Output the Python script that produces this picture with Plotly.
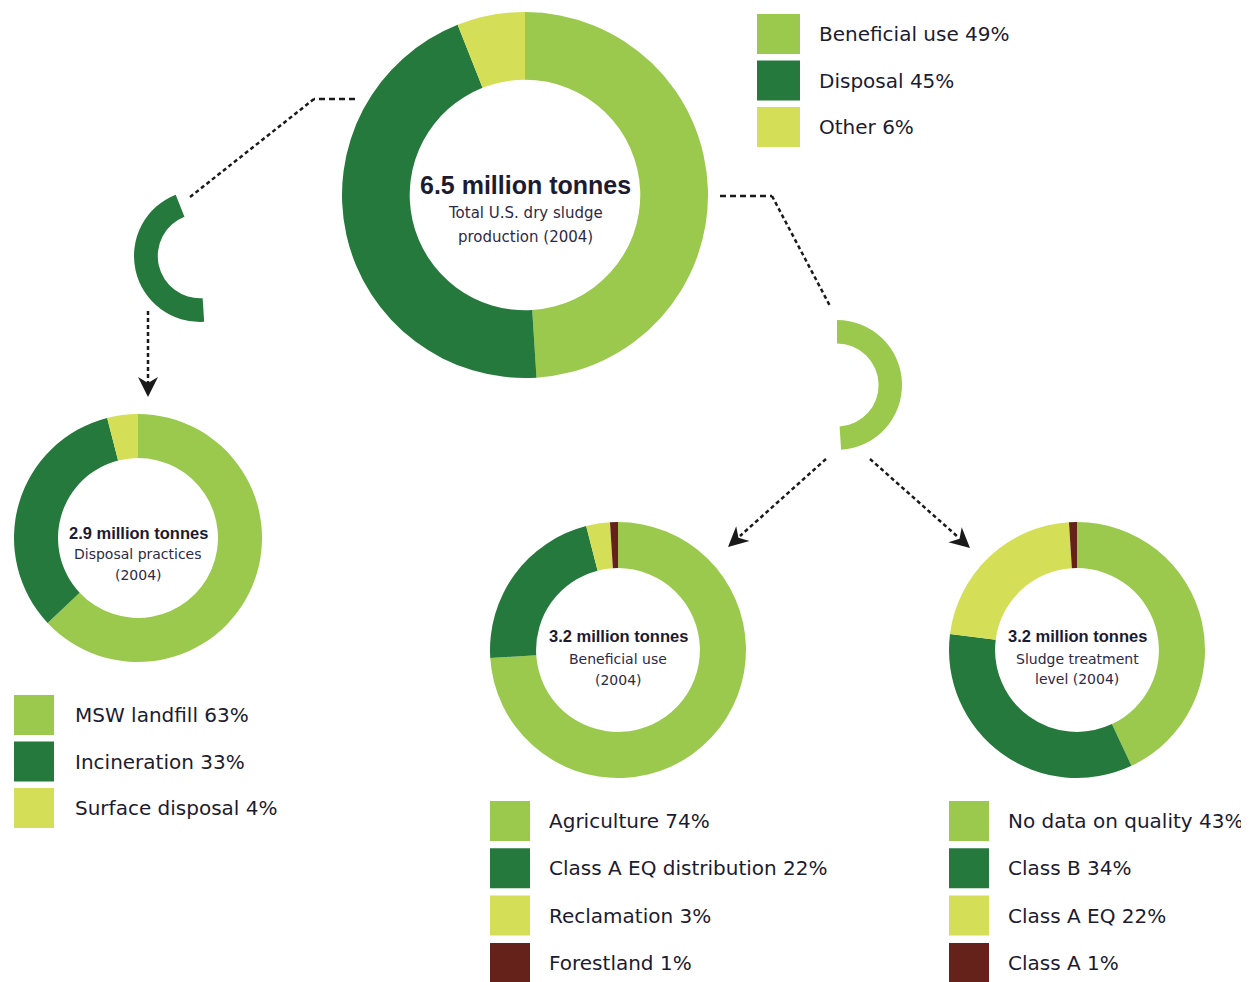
import math
import plotly.graph_objects as go

W, H = 1249, 982
OFF = 8                      # page body margin of the browser
FW, FH = W - OFF, H - OFF    # figure size that fits inside the window

# ---------------- data ----------------
main_labels = ["Beneficial use", "Disposal", "Other"]
main_values = [49, 45, 6]
main_title = ["6.5 million tonnes", "Total U.S. dry sludge", "production (2004)"]

disp_labels = ["MSW landfill", "Incineration", "Surface disposal"]
disp_values = [63, 33, 4]
disp_title = ["2.9 million tonnes", "Disposal practices", "(2004)"]

ben_labels = ["Agriculture", "Class A EQ distribution", "Reclamation", "Forestland"]
ben_values = [74, 22, 3, 1]
ben_title = ["3.2 million tonnes", "Beneficial use", "(2004)"]

trt_labels = ["No data on quality", "Class B", "Class A EQ", "Class A"]
trt_values = [43, 34, 22, 1]
trt_title = ["3.2 million tonnes", "Sludge treatment", "level (2004)"]

# ---------------- style ----------------
LG = "#9AC94E"
DG = "#25793C"
YL = "#D4DF57"
BR = "#65221A"
CLEAR = "rgba(0,0,0,0)"
TXT = "#1C1B30"
SUB = "#2E2A45"
FONT = "DejaVu Sans"
BFONT = "Liberation Sans"

fig = go.Figure()


def add_pie(values, labels, colors, cx, cy, r, hole):
    fig.add_trace(go.Pie(
        values=values, labels=labels, sort=False, direction="clockwise",
        rotation=0, hole=hole, textinfo="none", hoverinfo="label+percent",
        marker=dict(colors=colors, line=dict(width=0)),
        domain=dict(x=[(cx - r - OFF) / FW, (cx + r - OFF) / FW],
                    y=[1 - (cy + r - OFF) / FH, 1 - (cy - r - OFF) / FH]),
        showlegend=False,
    ))


# main donut and its two exploded fragments
add_pie(main_values, main_labels, [LG, DG, YL], 525, 195, 183, 0.63)
add_pie(main_values, main_labels, [CLEAR, DG, CLEAR], 200, 256, 66, 0.64)
add_pie(main_values, main_labels, [LG, CLEAR, CLEAR], 837, 385, 65, 0.64)

# detail donuts
add_pie(disp_values, disp_labels, [LG, DG, YL], 138, 538, 124, 0.645)
add_pie(ben_values, ben_labels, [LG, DG, YL, BR], 618, 650, 128, 0.64)
add_pie(trt_values, trt_labels, [LG, DG, YL, BR], 1077, 650, 128, 0.64)

shapes = []
annotations = []


def add_legend(labels, values, colors, x0, y0, sw, sh, pitch, tx):
    for i, (lab, val, col) in enumerate(zip(labels, values, colors)):
        top = y0 + i * pitch
        shapes.append(dict(type="rect", xref="x", yref="y", x0=x0, x1=x0 + sw,
                           y0=top, y1=top + sh, fillcolor=col, line=dict(width=0)))
        annotations.append(dict(x=tx, y=top + sh / 2, xref="x", yref="y",
                                text=f"{lab} {val}%", showarrow=False,
                                xanchor="left", yanchor="middle",
                                font=dict(family=FONT, size=20, color=TXT)))


add_legend(main_labels, main_values, [LG, DG, YL], 757, 14, 43, 40, 46.5, 817)
add_legend(disp_labels, disp_values, [LG, DG, YL], 14, 695, 40, 40, 46.5, 73)
add_legend(ben_labels, ben_values, [LG, DG, YL, BR], 490, 801, 40, 40, 47.3, 547)
add_legend(trt_labels, trt_values, [LG, DG, YL, BR], 949, 801, 40, 40, 47.3, 1006)


def add_title(lines, cx, ys, sizes):
    for k, (t, y, s) in enumerate(zip(lines, ys, sizes)):
        if k == 0:
            txt, fam, col = f"<b>{t}</b>", BFONT, TXT
        else:
            txt, fam, col = t, FONT, SUB
        annotations.append(dict(x=cx, y=y, xref="x", yref="y", text=txt,
                                showarrow=False, xanchor="center", yanchor="middle",
                                font=dict(family=fam, size=s, color=col)))


add_title(main_title, 525, [185, 213, 237], [25, 15, 15])
add_title(disp_title, 138, [533, 554, 575], [16.5, 14, 14])
add_title(ben_title, 618, [636, 659, 680], [16.5, 14, 14])
add_title(trt_title, 1077, [636, 659, 679], [16.5, 14, 14])


def dashed(points, dash="4px,3px", width=2.5):
    path = "M " + " L ".join(f"{x},{y}" for x, y in points)
    shapes.append(dict(type="path", xref="x", yref="y", path=path,
                       line=dict(color="#1a1a1a", width=width, dash=dash)))


def arrowhead(xf, yf, xt, yt, length=20, half=10, notch=6):
    dx, dy = xt - xf, yt - yf
    n = math.hypot(dx, dy)
    ux, uy = dx / n, dy / n
    px, py = -uy, ux
    bx, by = xt - ux * length, yt - uy * length
    p1 = (bx + px * half, by + py * half)
    p2 = (bx - px * half, by - py * half)
    pn = (xt - ux * (length - notch), yt - uy * (length - notch))
    path = f"M {xt},{yt} L {p1[0]},{p1[1]} L {pn[0]},{pn[1]} L {p2[0]},{p2[1]} Z"
    shapes.append(dict(type="path", xref="x", yref="y", path=path,
                       fillcolor="#1a1a1a", line=dict(width=0)))


# connectors
dashed([(355, 99), (314, 99)], dash="6px,4px")
dashed([(314, 99), (190, 197)])
dashed([(720, 196), (772, 196)], dash="6px,4px")
dashed([(772, 196), (830, 306)])

dashed([(148, 311), (148, 384)])
arrowhead(148, 311, 148, 397)

dashed([(826, 459), (740, 536)])
arrowhead(826, 459, 728, 547)
dashed([(870, 459), (958, 537)])
arrowhead(870, 459, 970, 548)

fig.update_layout(
    width=FW, height=FH, margin=dict(l=0, r=0, t=0, b=0),
    paper_bgcolor="white", plot_bgcolor="white",
    xaxis=dict(range=[OFF, W], visible=False, fixedrange=True),
    yaxis=dict(range=[H, OFF], visible=False, fixedrange=True),
    shapes=shapes, annotations=annotations,
)

fig.write_html("out.html")
